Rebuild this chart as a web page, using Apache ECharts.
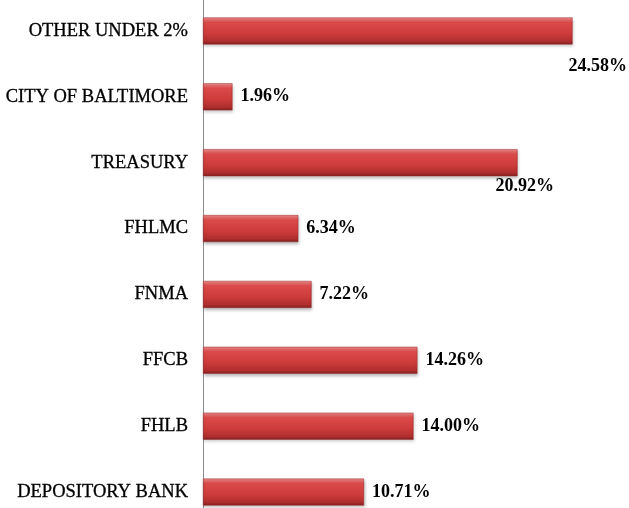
<!DOCTYPE html>
<html>
<head>
<meta charset="utf-8">
<script src="https://cdn.jsdelivr.net/npm/echarts@6/dist/echarts.min.js"></script>
<style>
  html, body { margin: 0; padding: 0; background: #fff; }
  #chart { width: 629px; height: 508px; }
</style>
</head>
<body>
<div id="chart"></div>
<script>
// categories top to bottom
const categories = [
  'OTHER UNDER 2%',
  'CITY OF BALTIMORE',
  'TREASURY',
  'FHLMC',
  'FNMA',
  'FFCB',
  'FHLB',
  'DEPOSITORY BANK'
]
const values = [24.58, 1.96, 20.92, 6.34, 7.22, 14.26, 14.0, 10.71]

// labels that don't fit to the right get pushed under the bar end
const labelOffsets = {
  'OTHER UNDER 2%': [-12, 35],
  TREASURY: [-30, 24],
}

const chart = echarts.init(document.getElementById('chart'), null, { renderer: 'canvas' })

const barColor = new echarts.graphic.LinearGradient(0, 0, 0, 1, [
  { offset: 0, color: '#ee8c8c' },
  { offset: 0.18, color: '#dc4b4b' },
  { offset: 0.6, color: '#cd3b3b' },
  { offset: 0.88, color: '#b02e2e' },
  { offset: 1, color: '#7e2020' },
])

const option = {
  backgroundColor: '#ffffff',
  animation: false,
  grid: {
    left: 203,
    top: -2,
    width: 421,
    height: 527,
    outerBoundsMode: 'none',
  },
  xAxis: {
    type: 'value',
    min: 0,
    max: 28,
    show: false,
  },
  yAxis: {
    type: 'category',
    inverse: true,
    data: categories,
    axisLine: { show: true, lineStyle: { color: '#8c8c8c', width: 1 } },
    axisTick: { show: false },
    axisLabel: {
      margin: 15,
      fontFamily: 'Liberation Serif',
      fontSize: 18.5,
      color: '#000',
      textBorderColor: '#000',
      textBorderWidth: 0.3,
    },
  },
  series: [
    {
      type: 'bar',
      barWidth: 27,
      data: values.map((v, i) => {
        const off = labelOffsets[categories[i]]
        return off ? { value: v, label: { offset: off } } : v
      }),
      itemStyle: {
        color: barColor,
        borderColor: '#9a2a2a',
        borderWidth: 0.5,
        shadowColor: 'rgba(0,0,0,0.25)',
        shadowBlur: 3,
        shadowOffsetX: 1,
        shadowOffsetY: 2,
      },
      label: {
        show: true,
        position: 'right',
        distance: 8,
        formatter: (p) => p.value.toFixed(2) + '%',
        fontFamily: 'Liberation Serif',
        fontWeight: 'bold',
        fontSize: 18,
        color: '#000',
      },
    },
  ],
}

chart.setOption(option)
</script>
</body>
</html>
